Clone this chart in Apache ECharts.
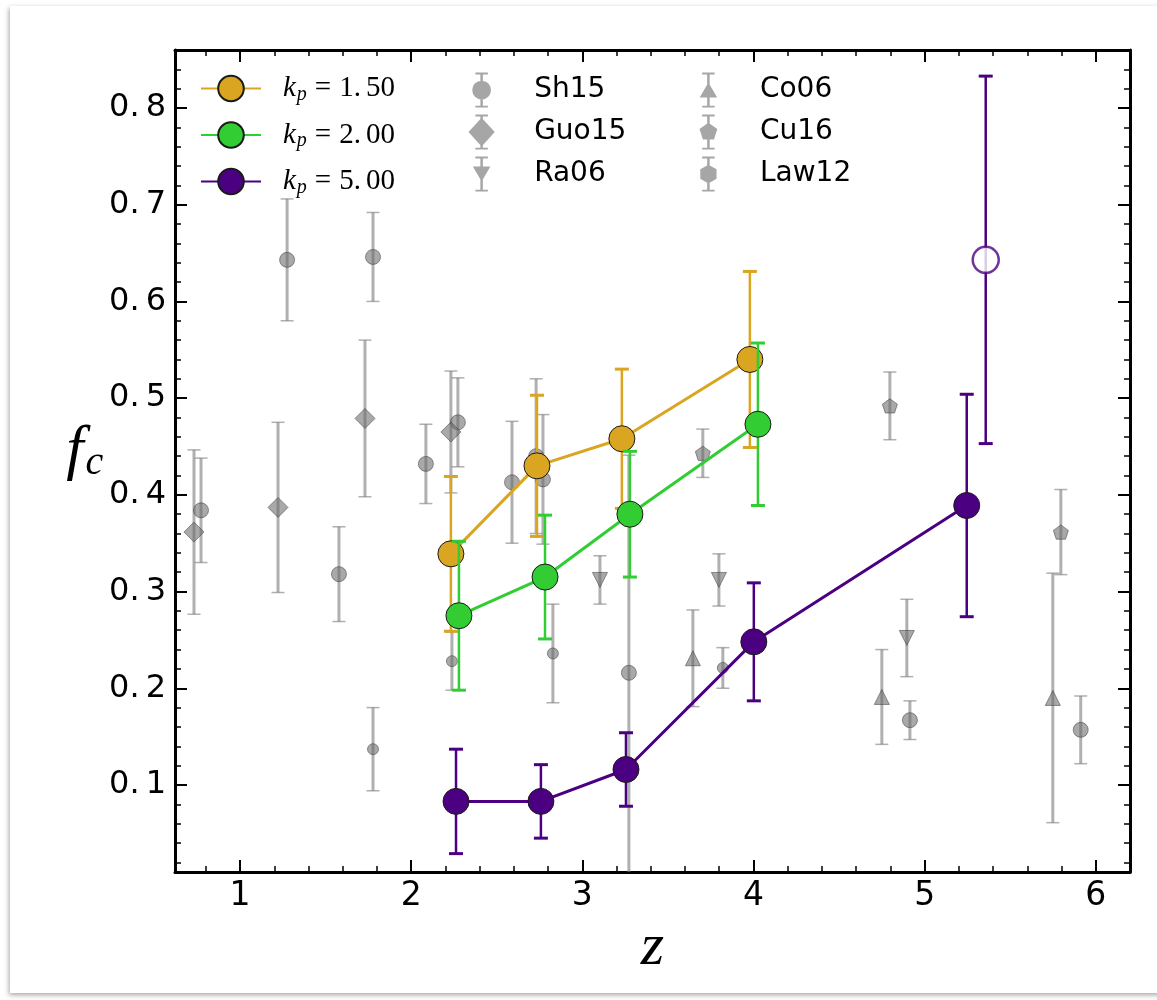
<!DOCTYPE html>
<html>
<head>
<meta charset="utf-8">
<title>Clump fraction versus redshift</title>
<script src="https://cdn.jsdelivr.net/npm/echarts@6/dist/echarts.min.js"></script>
<style>
  html, body { margin: 0; padding: 0; background: #ffffff; width: 1157px; height: 1000px; overflow: hidden; }
  #sheet { position: absolute; left: 10px; top: 6px; width: 1170px; height: 987px; background: #ffffff;
           box-shadow: -1px 2px 5px rgba(0, 0, 0, 0.35); }
  #chart { position: absolute; left: 0; top: 0; width: 1157px; height: 1000px; }
</style>
</head>
<body>
<div id="sheet"></div>
<div id="chart"></div>
<script>
// ---- model predictions: redshift, clump fraction, 1-sigma spread ----
const kp150Z   = [2.232, 2.735, 3.231, 3.979];
const kp150Fc  = [0.339, 0.430, 0.458, 0.540];
const kp150Err = [0.080, 0.073, 0.072, 0.091];

const kp200Z   = [2.279, 2.782, 3.278, 4.026];
const kp200Fc  = [0.275, 0.315, 0.380, 0.473];
const kp200Err = [0.077, 0.064, 0.065, 0.084];

const kp500Z   = [2.262, 2.758, 3.255, 4.002, 5.246];
const kp500Fc  = [0.083, 0.083, 0.116, 0.248, 0.389];
const kp500Err = [0.054, 0.038, 0.038, 0.061, 0.115];

// highest-redshift kp = 5 bin, shown as an open symbol
const kp500OpenZ   = [5.357];
const kp500OpenFc  = [0.643];
const kp500OpenErr = [0.190];

// ---- observed clump fractions ----
const sh15Z   = [0.772, 1.275, 1.578, 1.777, 2.086, 2.273, 2.589, 2.730, 2.770, 3.272, 4.914, 5.912];
const sh15Fc  = [0.384, 0.643, 0.318, 0.646, 0.432, 0.475, 0.413, 0.440, 0.416, 0.216, 0.167, 0.157];
const sh15Err = [0.054, 0.063, 0.049, 0.046, 0.041, 0.046, 0.063, 0.080, 0.067, 0.225, 0.020, 0.035];

const guo15Z   = [0.731, 1.222, 1.730, 2.232];
const guo15Fc  = [0.3615, 0.387, 0.479, 0.465];
const guo15Err = [0.085, 0.088, 0.081, 0.063];

const ra06Z   = [3.103, 3.798, 4.896];
const ra06Fc  = [0.312, 0.312, 0.252];
const ra06Err = [0.025, 0.027, 0.040];

const co06Z   = [3.646, 4.750, 5.749];
const co06Fc  = [0.231, 0.191, 0.190];
const co06Err = [0.050, 0.049, 0.129];

const cu16Z   = [3.704, 4.797, 5.796];
const cu16Fc  = [0.443, 0.492, 0.3615];
const cu16Err = [0.025, 0.035, 0.044];

const law12Z   = [1.777, 2.238, 2.828, 3.821];
const law12Fc  = [0.137, 0.228, 0.236, 0.221];
const law12Err = [0.043, 0.030, 0.051, 0.021];

// ---- axis ranges and labelled ticks ----
const zRange  = [0.62, 6.2];
const fcRange = [0.01, 0.86];
const zTickLabels  = [1, 2, 3, 4, 5, 6];
const fcTickLabels = [0.1, 0.2, 0.3, 0.4, 0.5, 0.6, 0.7, 0.8];

// ---- styling ----
const ORANGE = '#DAA520';
const GREEN  = '#32CD32';
const PURPLE = '#4B0082';
const GRAY_FILL = 'rgba(105,105,105,0.72)';
const GRAY_EDGE = 'rgba(60,60,60,0.65)';
const GRAY_BAR  = 'rgba(128,128,128,0.62)';
const SANS  = 'DejaVu Sans';
const SERIF = 'Liberation Serif';

const PENTAGON = 'path://M0,-1L0.951,-0.309L0.588,0.809L-0.588,0.809L-0.951,-0.309Z';

// legend glyphs: marker with its error bar, drawn in pixel units (28 px tall)
function barGlyph(cx, marker) {
  const c1 = cx - 5, c2 = cx + 5, b1 = cx - 1, b2 = cx + 1;
  return 'path://' +
    'M' + c1 + ',0H' + c2 + 'V1.5H' + c1 + 'Z' +
    'M' + b1 + ',1.5H' + b2 + 'V26.5H' + b1 + 'Z' +
    'M' + c1 + ',26.5H' + c2 + 'V28H' + c1 + 'Z' + marker;
}
const LEGEND_ICONS = {
  circle:   barGlyph(7.5, 'M0,14A7.5,7.5,0,1,1,15,14A7.5,7.5,0,1,1,0,14Z'),
  diamond:  barGlyph(10.5, 'M10.5,2.5L21,14L10.5,25.5L0,14Z'),
  triDown:  barGlyph(7, 'M0,8L14,8L7,20Z'),
  triUp:    barGlyph(7, 'M7,8L14,20L0,20Z'),
  pentagon: barGlyph(7.5, 'M7.5,6.5L14.63,11.68L11.91,20.07L3.09,20.07L0.37,11.68Z'),
  hexagon:  barGlyph(7, 'M7,6.5L13.5,10.25L13.5,17.75L7,21.5L0.5,17.75L0.5,10.25Z')
};

const rows3 = (a, b, c) => a.map((v, i) => [v, b[i], c[i]]);
const rows2 = (a, b) => a.map((v, i) => [v, b[i]]);

// vertical error bars with caps, clipped to the plotting area
function errorBars(name, rows, color, barWidth, capHalf, capWidth, z) {
  return {
    type: 'custom', name: name, z: z, silent: true,
    xAxisIndex: 0, yAxisIndex: 0,
    encode: { x: 0, y: 1 },
    data: rows,
    renderItem: function (params, api) {
      const x = api.value(0), y = api.value(1), e = api.value(2);
      const hi = api.coord([x, y + e]);
      const lo = api.coord([x, y - e]);
      const cs = params.coordSys;
      const top = cs.y, bottom = cs.y + cs.height;
      const px = hi[0];
      const children = [{
        type: 'line',
        shape: { x1: px, y1: Math.max(hi[1], top), x2: px, y2: Math.min(lo[1], bottom) },
        style: { stroke: color, lineWidth: barWidth }
      }];
      [hi[1], lo[1]].forEach(function (yy) {
        if (yy >= top - 0.5 && yy <= bottom + 0.5) {
          children.push({
            type: 'line',
            shape: { x1: px - capHalf, y1: yy, x2: px + capHalf, y2: yy },
            style: { stroke: color, lineWidth: capWidth }
          });
        }
      });
      return { type: 'group', children: children };
    }
  };
}

function observed(name, symbol, size, zs, fs, rotate) {
  return {
    type: 'scatter', name: name, z: 2, silent: true,
    xAxisIndex: 0, yAxisIndex: 0,
    data: rows2(zs, fs),
    symbol: symbol, symbolSize: size, symbolRotate: rotate || 0, symbolKeepAspect: true,
    itemStyle: { color: GRAY_FILL, borderColor: GRAY_EDGE, borderWidth: 1 },
    emphasis: { disabled: true }
  };
}

function model(name, color, zs, fs, z) {
  return {
    type: 'line', name: name, z: z, silent: true,
    xAxisIndex: 0, yAxisIndex: 0,
    data: rows2(zs, fs),
    symbol: 'circle', symbolSize: 26, showAllSymbol: true,
    lineStyle: { color: color, width: 3 },
    itemStyle: { color: color, borderColor: '#1a1a1a', borderWidth: 1 },
    emphasis: { disabled: true }
  };
}

// frame axes: one carries the major ticks, a twin carries the minor ticks
function frameAxis(position, range, split, step, tick, extra) {
  const ax = {
    type: 'value', position: position,
    min: range[0], max: range[1],
    splitNumber: split, minInterval: step, maxInterval: step,
    splitLine: { show: false },
    axisLine: { show: tick === 'major', onZero: false, lineStyle: { color: '#000', width: 3 } },
    axisTick: { show: true, inside: true, length: tick === 'major' ? 12 : 6,
                lineStyle: { color: '#000', width: tick === 'major' ? 2 : 1.5 } },
    axisLabel: { show: false },
    axisPointer: { show: false }
  };
  return Object.assign(ax, extra || {});
}

const onList = (list, v) => list.some(t => Math.abs(t - v) < 1e-6);

const xAxes = [
  frameAxis('bottom', zRange, 5, 1, 'major', {
    axisLabel: {
      show: true, margin: 8, showMinLabel: false, showMaxLabel: false,
      fontFamily: SANS, fontSize: 33, color: '#000',
      formatter: v => onList(zTickLabels, v) ? String(Math.round(v)) : ''
    },
    name: 'z', nameLocation: 'middle', nameGap: 31,
    nameTextStyle: { fontFamily: SERIF, fontStyle: 'italic', fontSize: 60, color: '#000' }
  }),
  frameAxis('bottom', zRange, 28, 0.2, 'minor'),
  frameAxis('top', zRange, 5, 1, 'major'),
  frameAxis('top', zRange, 28, 0.2, 'minor')
];

const yAxes = [
  frameAxis('left', fcRange, 8, 0.1, 'major', {
    axisLabel: {
      show: true, margin: 9, showMinLabel: false, showMaxLabel: false,
      fontFamily: SANS, fontSize: 32, color: '#000',
      formatter: function (v) {
        if (!onList(fcTickLabels, v)) return '';
        const s = v.toFixed(1).split('.');
        return '{a|' + s[0] + '.}{b|' + s[1] + '}';
      },
      rich: {
        a: { fontFamily: SANS, fontSize: 32, color: '#000' },
        b: { fontFamily: SANS, fontSize: 32, color: '#000', padding: [0, 0, 0, 6] }
      }
    },
    name: '{f|f}{c|c}', nameLocation: 'middle', nameGap: 70, nameRotate: 0,
    nameTextStyle: {
      padding: [0, 0, 18, 0],
      rich: {
        f: { fontFamily: SERIF, fontStyle: 'italic', fontSize: 62, color: '#000' },
        c: { fontFamily: SERIF, fontStyle: 'italic', fontSize: 40, color: '#000', padding: [22, 0, 0, 2] }
      }
    }
  }),
  frameAxis('left', fcRange, 42, 0.02, 'minor'),
  frameAxis('right', fcRange, 8, 0.1, 'major'),
  frameAxis('right', fcRange, 42, 0.02, 'minor')
];

const modelNames = ['k_p = 1.50', 'k_p = 2.00', 'k_p = 5.00'];

const option = {
  animation: false,
  backgroundColor: 'transparent',
  grid: { left: 175, top: 50, right: 27, bottom: 128, containLabel: false, outerBoundsMode: 'none' },
  xAxis: xAxes,
  yAxis: yAxes,
  legend: [
    {
      data: modelNames, orient: 'vertical', left: 200, top: 74, padding: 0,
      itemWidth: 60, itemHeight: 32, itemGap: 16, selectedMode: false,
      formatter: function (n) {
        const v = n.split('= ')[1].split('.');
        return '{k|k}{p|p}{eq|=}{v|' + v[0] + '.}{w|' + v[1] + '}';
      },
      textStyle: {
        padding: [0, 0, 0, 17],
        rich: {
          k:  { fontFamily: SERIF, fontStyle: 'italic', fontSize: 29, color: '#000' },
          p:  { fontFamily: SERIF, fontStyle: 'italic', fontSize: 20, color: '#000', padding: [12, 0, 0, 1] },
          eq: { fontFamily: SERIF, fontSize: 29, color: '#000', padding: [0, 8, 0, 8] },
          v:  { fontFamily: SERIF, fontSize: 29, color: '#000' },
          w:  { fontFamily: SERIF, fontSize: 29, color: '#000', padding: [0, 0, 0, 5] }
        }
      }
    },
    {
      data: [
        { name: 'Sh15', icon: LEGEND_ICONS.circle },
        { name: 'Guo15', icon: LEGEND_ICONS.diamond },
        { name: 'Ra06', icon: LEGEND_ICONS.triDown }
      ],
      orient: 'vertical', left: 468.5, top: 72.5, padding: 0,
      itemWidth: 27, itemHeight: 35, itemGap: 7, selectedMode: false,
      itemStyle: { color: 'rgba(115,115,115,0.8)', borderWidth: 0 },
      textStyle: { fontFamily: SANS, fontSize: 28, color: '#000', padding: [0, 0, 0, 34] }
    },
    {
      data: [
        { name: 'Co06', icon: LEGEND_ICONS.triUp },
        { name: 'Cu16', icon: LEGEND_ICONS.pentagon },
        { name: 'Law12', icon: LEGEND_ICONS.hexagon }
      ],
      orient: 'vertical', left: 699.5, top: 72.5, padding: 0,
      itemWidth: 27, itemHeight: 35, itemGap: 7, selectedMode: false,
      itemStyle: { color: 'rgba(115,115,115,0.8)', borderWidth: 0 },
      textStyle: { fontFamily: SANS, fontSize: 28, color: '#000', padding: [0, 0, 0, 33] }
    }
  ],
  series: [
    // observations (drawn underneath the models)
    observed('Sh15', 'circle', 15, sh15Z, sh15Fc),
    observed('Guo15', 'diamond', 20, guo15Z, guo15Fc),
    observed('Ra06', 'triangle', 15, ra06Z, ra06Fc, 180),
    observed('Co06', 'triangle', 15, co06Z, co06Fc),
    observed('Cu16', PENTAGON, 15, cu16Z, cu16Fc),
    observed('Law12', 'circle', 11, law12Z, law12Fc),
    errorBars('Sh15 errors', rows3(sh15Z, sh15Fc, sh15Err), GRAY_BAR, 3, 6.5, 1.5, 1),
    errorBars('Guo15 errors', rows3(guo15Z, guo15Fc, guo15Err), GRAY_BAR, 3, 6.5, 1.5, 1),
    errorBars('Ra06 errors', rows3(ra06Z, ra06Fc, ra06Err), GRAY_BAR, 3, 6.5, 1.5, 1),
    errorBars('Co06 errors', rows3(co06Z, co06Fc, co06Err), GRAY_BAR, 3, 6.5, 1.5, 1),
    errorBars('Cu16 errors', rows3(cu16Z, cu16Fc, cu16Err), GRAY_BAR, 3, 6.5, 1.5, 1),
    errorBars('Law12 errors', rows3(law12Z, law12Fc, law12Err), GRAY_BAR, 3, 6.5, 1.5, 1),

    // models
    model(modelNames[0], ORANGE, kp150Z, kp150Fc, 4),
    errorBars('kp150 errors', rows3(kp150Z, kp150Fc, kp150Err), ORANGE, 2.5, 7, 3, 3),
    model(modelNames[1], GREEN, kp200Z, kp200Fc, 6),
    errorBars('kp200 errors', rows3(kp200Z, kp200Fc, kp200Err), GREEN, 2.5, 7, 3, 5),
    model(modelNames[2], PURPLE, kp500Z, kp500Fc, 8),
    errorBars('kp500 errors', rows3(kp500Z, kp500Fc, kp500Err), PURPLE, 2.5, 7, 3, 7),
    errorBars('kp500 open errors', rows3(kp500OpenZ, kp500OpenFc, kp500OpenErr), PURPLE, 2.5, 7, 3, 7),
    {
      type: 'scatter', name: 'kp500 open', z: 8, silent: true,
      xAxisIndex: 0, yAxisIndex: 0,
      data: rows2(kp500OpenZ, kp500OpenFc),
      symbol: 'circle', symbolSize: 26,
      itemStyle: { color: '#ffffff', borderColor: PURPLE, borderWidth: 2.5 },
      emphasis: { disabled: true }
    }
  ]
};

const chart = echarts.init(document.getElementById('chart'), null, { renderer: 'canvas' });
chart.setOption(option);
</script>
</body>
</html>
